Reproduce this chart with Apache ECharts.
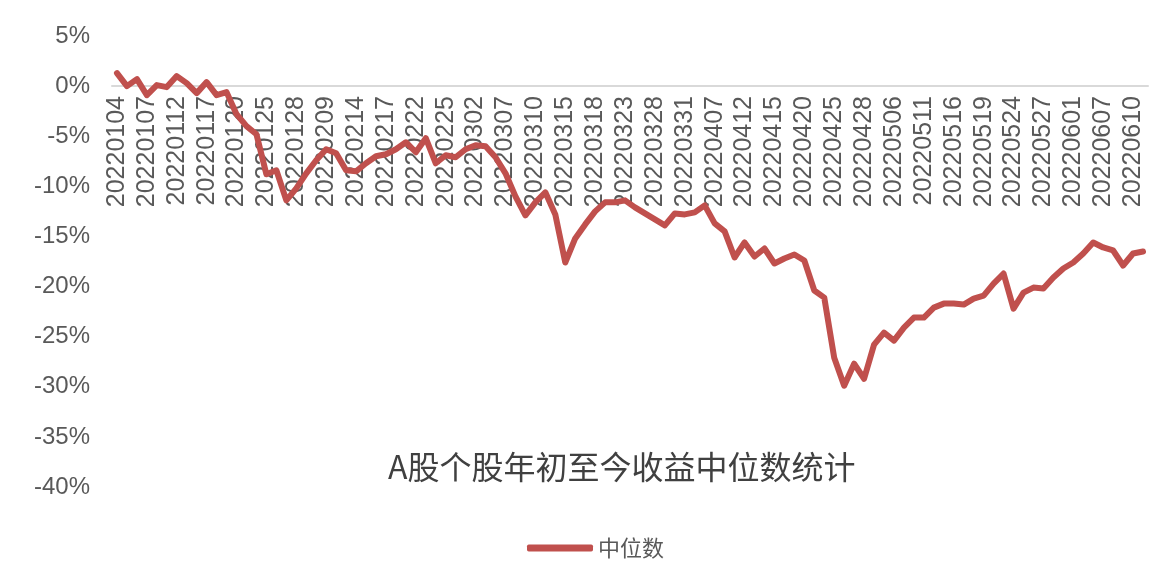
<!DOCTYPE html>
<html>
<head>
<meta charset="utf-8">
<script src="https://cdn.jsdelivr.net/npm/echarts@6/dist/echarts.min.js"></script>
<style>
html,body{margin:0;padding:0;background:#fff;}
#chart{width:1173px;height:577px;}
</style>
</head>
<body>
<div id="chart"></div>
<script>
const dates = [
'20220104','20220105','20220106','20220107','20220110','20220111','20220112','20220113','20220114','20220117',
'20220118','20220119','20220120','20220121','20220124','20220125','20220126','20220127','20220128',
'20220207','20220208','20220209','20220210','20220211','20220214','20220215','20220216','20220217','20220218',
'20220221','20220222','20220223','20220224','20220225','20220228',
'20220301','20220302','20220303','20220304','20220307','20220308','20220309','20220310','20220311','20220314',
'20220315','20220316','20220317','20220318','20220321','20220322','20220323','20220324','20220325','20220328',
'20220329','20220330','20220331',
'20220401','20220406','20220407','20220408','20220411','20220412','20220413','20220414','20220415','20220418',
'20220419','20220420','20220421','20220422','20220425','20220426','20220427','20220428','20220429',
'20220505','20220506','20220509','20220510','20220511','20220512','20220513','20220516','20220517','20220518',
'20220519','20220520','20220523','20220524','20220525','20220526','20220527','20220530','20220531',
'20220601','20220602','20220606','20220607','20220608','20220609','20220610','20220613'
];
const medianReturn = [
1.3, 0.0, 0.7, -0.9, 0.1, -0.1, 1.0, 0.3, -0.7, 0.4,
-0.9, -0.6, -2.8, -4.0, -4.8, -8.8, -8.4, -11.4, -10.2, -8.7,
-7.4, -6.3, -6.7, -8.4, -8.5, -7.7, -7.0, -6.8, -6.3, -5.6,
-6.6, -5.2, -7.7, -6.9, -7.1, -6.3, -5.9, -6.0, -7.1, -8.7,
-11.0, -12.9, -11.6, -10.6, -12.8, -17.6, -15.2, -13.8, -12.5, -11.6,
-11.6, -11.4, -12.1, -12.7, -13.3, -13.9, -12.7, -12.8, -12.6, -11.9,
-13.7, -14.5, -17.1, -15.6, -17.0, -16.2, -17.7, -17.2, -16.8, -17.4,
-20.4, -21.1, -27.1, -29.9, -27.7, -29.2, -25.8, -24.6, -25.4, -24.1,
-23.1, -23.1, -22.1, -21.7, -21.7, -21.8, -21.2, -20.9, -19.7, -18.7,
-22.2, -20.6, -20.1, -20.2, -19.1, -18.2, -17.6, -16.7, -15.6, -16.1,
-16.4, -17.9, -16.7, -16.5
];
const seriesName = '中位数';
const chartTitle = 'A股个股年初至今收益中位数统计';

const chart = echarts.init(document.getElementById('chart'));
chart.setOption({
  animation: false,
  backgroundColor: '#fff',
  title: {
    text: chartTitle,
    left: 383,
    top: 446,
    textStyle: {
      fontFamily: 'Noto Sans CJK SC',
      fontSize: 32,
      fontWeight: 'normal',
      color: '#404040'
    }
  },
  legend: {
    data: [{name: seriesName, icon: 'roundRect'}],
    left: 522,
    top: 532,
    itemWidth: 66,
    itemHeight: 7,
    itemGap: 8,
    textStyle: {
      fontFamily: 'Noto Sans CJK SC',
      fontSize: 22,
      color: '#595959'
    }
  },
  grid: [
    {left: 112, right: 25, top: 36, bottom: 90, outerBoundsMode: 'none', containLabel: false},
    {left: 112, right: 25, top: 36, height: 50, outerBoundsMode: 'none', containLabel: false}
  ],
  xAxis: [{
    type: 'category',
    gridIndex: 0,
    data: dates,
    boundaryGap: true,
    axisLine: {onZero: true, lineStyle: {color: '#d9d9d9', width: 2}},
    axisTick: {show: false},
    axisLabel: {show: false},
    splitLine: {show: false}
  }, {
    type: 'category',
    gridIndex: 1,
    data: dates,
    boundaryGap: true,
    position: 'bottom',
    axisLine: {show: false, onZero: false},
    axisTick: {show: false},
    axisLabel: {
      interval: 2,
      rotate: 90,
      margin: 10,
      fontFamily: 'Liberation Sans',
      fontSize: 25,
      color: '#595959'
    },
    splitLine: {show: false}
  }],
  yAxis: [{
    type: 'value',
    gridIndex: 0,
    min: -40,
    max: 5,
    interval: 5,
    axisLine: {show: false},
    axisTick: {show: false},
    splitLine: {show: false},
    axisLabel: {
      formatter: '{value}%',
      margin: 22,
      fontFamily: 'Liberation Sans',
      fontSize: 24,
      color: '#595959'
    }
  }, {
    type: 'value',
    gridIndex: 1,
    show: false,
    min: 0,
    max: 1
  }],
  series: [{
    name: seriesName,
    type: 'line',
    xAxisIndex: 0,
    yAxisIndex: 0,
    data: medianReturn,
    showSymbol: false,
    symbol: 'none',
    lineStyle: {color: '#C0504D', width: 6, cap: 'round', join: 'round'},
    itemStyle: {color: '#C0504D'}
  }]
});
</script>
</body>
</html>
